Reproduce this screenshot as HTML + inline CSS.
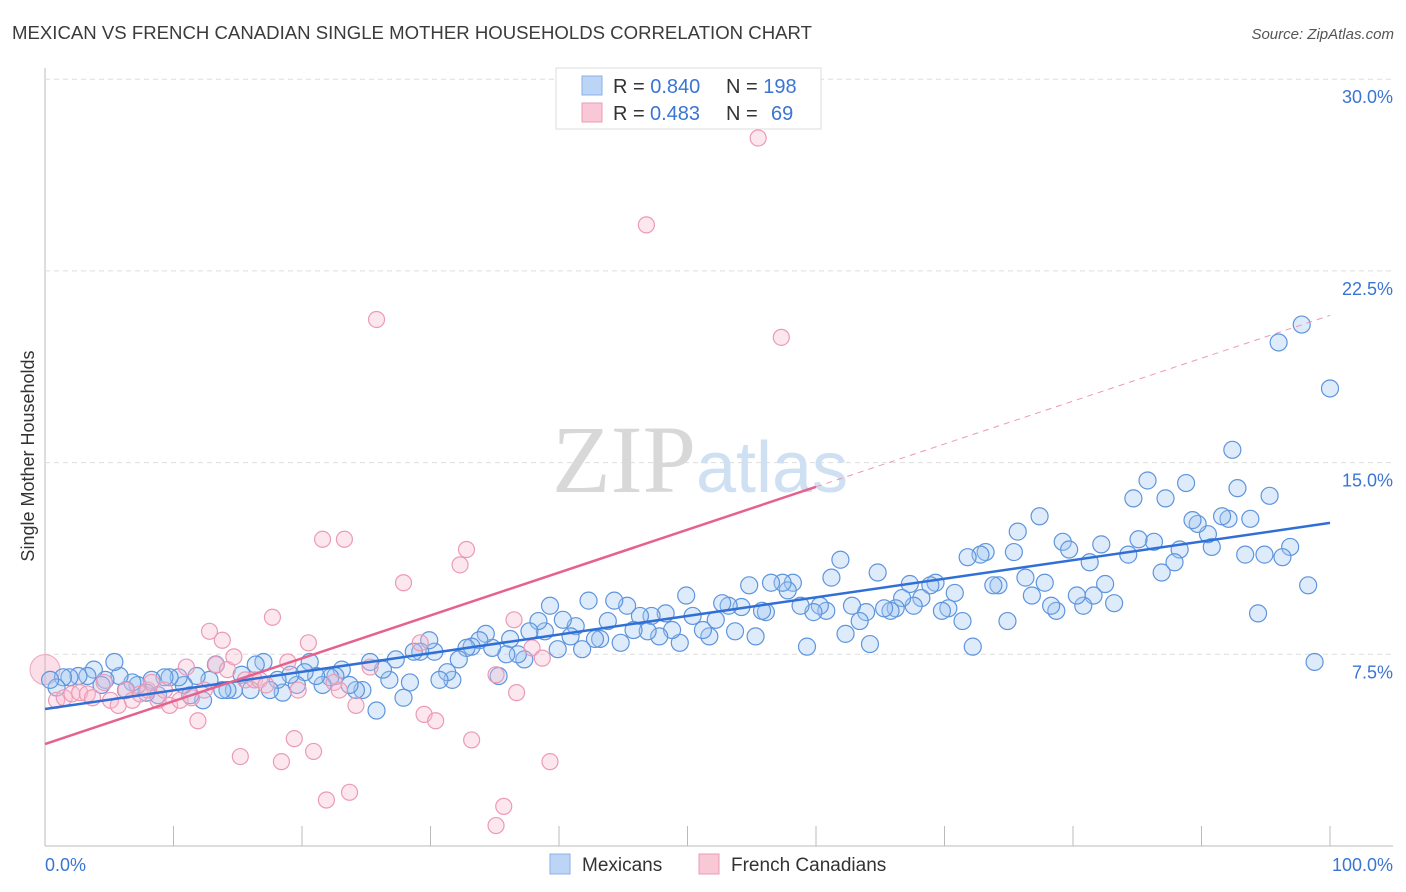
<!DOCTYPE html>
<html><head><meta charset="utf-8"><style>
body{margin:0;background:#fff;font-family:"Liberation Sans",sans-serif;}
svg{display:block}
</style></head><body>
<svg id="chart" width="1406" height="892">
<text x="12" y="39" font-size="18.6" fill="#3b3b3b">MEXICAN VS FRENCH CANADIAN SINGLE MOTHER HOUSEHOLDS CORRELATION CHART</text>
<text x="1394" y="39" font-size="15" fill="#555" font-style="italic" text-anchor="end">Source: ZipAtlas.com</text>
<text x="34" y="456" font-size="18" fill="#333" text-anchor="middle" transform="rotate(-90 34 456)">Single Mother Households</text>
<g id="grid"></g>
<text x="700" y="492" font-size="96" fill="#ddd" text-anchor="middle" font-family="Liberation Serif,serif"><tspan fill="#d8d8d8">ZIP</tspan><tspan fill="#cfe0f3" font-family="Liberation Sans,sans-serif" font-size="72">atlas</tspan></text>
<g id="pts"></g>
<g id="lines"></g>
<g>
<rect x="556" y="68" width="265" height="61" fill="#fff" stroke="#ddd"/>
<rect x="582" y="76" width="20" height="19" fill="#bcd4f5" stroke="#8ab0e8"/>
<rect x="582" y="103" width="20" height="19" fill="#f9c8d7" stroke="#ec9bb5"/>
<text x="613" y="93" font-size="20" fill="#333">R = <tspan fill="#3a75d4">0.840</tspan><tspan x="726">N = </tspan><tspan fill="#3a75d4">198</tspan></text>
<text x="613" y="120" font-size="20" fill="#333">R = <tspan fill="#3a75d4" x="650">0.483</tspan><tspan x="726">N = </tspan><tspan fill="#3a75d4" x="771">69</tspan></text>
</g>
<g>
<rect x="550" y="854" width="20" height="20" fill="#bcd4f5" stroke="#8ab0e8"/>
<text x="582" y="871" font-size="19" fill="#333">Mexicans</text>
<rect x="699" y="854" width="20" height="20" fill="#f9c8d7" stroke="#ec9bb5"/>
<text x="731" y="871" font-size="19" fill="#333">French Canadians</text>
</g>
<text x="45" y="871" font-size="18" fill="#3a75d4">0.0%</text>
<text x="1393" y="871" font-size="18" fill="#3a75d4" text-anchor="end">100.0%</text>
</svg>
<script>
const yTicks=[7.5,15,22.5,30];
const yTickLabels=["7.5%","15.0%","22.5%","30.0%"];
const xTicks=[0,10,20,30,40,50,60,70,80,90,100];
const blueX=[100,97.8,96,98.8,98.3,96.9,96.3,95.3,94.9,94.4,93.4,93.8,92.8,92.4,92.1,91.6,90.8,90.5,89.7,89.3,88.8,88.3,87.9,87.2,86.9,86.3,85.8,85.1,84.7,84.3,83.2,82.5,81.6,81.3,82.2,80.8,80.3,79.2,79.7,78.7,78.3,77.8,76.8,76.3,77.4,75.7,75.4,74.9,74.2,73.8,73.2,72.8,72.2,71.4,71.8,70.8,70.3,69.8,69.3,68.9,68.2,67.6,67.3,66.7,66.2,65.8,65.3,64.8,64.2,63.9,63.4,62.8,62.3,61.9,61.2,60.8,60.3,59.8,59.3,58.8,58.2,57.8,57.4,56.5,56.1,55.8,55.3,54.8,54.2,53.7,53.2,52.7,52.2,51.7,51.2,50.4,49.9,49.4,48.8,48.3,47.8,47.2,46.9,46.3,45.8,45.3,44.8,44.3,43.8,43.2,42.8,42.3,41.8,41.3,40.9,40.3,39.9,39.3,38.9,38.4,37.7,37.3,36.8,36.2,35.9,35.3,34.8,34.3,33.8,33.2,32.8,32.2,31.7,31.3,30.7,30.3,29.9,29.2,28.7,28.4,27.9,27.3,26.8,26.3,25.8,25.3,24.7,24.2,23.7,23.1,22.6,22.2,21.6,21.1,20.6,20.2,19.6,19.1,18.5,18.1,17.5,17.0,16.4,16.0,15.3,14.7,14.2,13.8,13.3,12.8,12.3,11.8,11.3,10.8,10.4,9.7,9.3,8.8,8.3,7.9,7.2,6.8,6.3,5.8,5.4,4.7,4.4,3.8,3.3,2.6,1.9,1.4,0.9,0.4];
const blueY=[17.9,20.4,19.7,7.2,10.2,11.7,11.3,13.7,11.4,9.1,11.4,12.8,14.0,15.5,12.8,12.9,11.7,12.2,12.6,12.75,14.2,11.6,11.1,13.6,10.7,11.9,14.3,12.0,13.6,11.4,9.5,10.25,9.8,11.1,11.8,9.4,9.8,11.9,11.6,9.2,9.4,10.3,9.8,10.5,12.9,12.3,11.5,8.8,10.2,10.2,11.5,11.4,7.8,8.8,11.3,9.9,9.3,9.2,10.3,10.2,9.7,9.4,10.25,9.7,9.3,9.2,9.3,10.7,7.9,9.15,8.8,9.4,8.3,11.2,10.5,9.2,9.4,9.15,7.8,9.4,10.3,10.0,10.3,10.3,9.15,9.2,8.2,10.2,9.35,8.4,9.4,9.5,8.85,8.2,8.45,9.0,9.8,7.95,8.45,9.1,8.2,9.0,8.4,9.0,8.45,9.4,7.95,9.6,8.8,8.1,8.1,9.6,7.7,8.6,8.2,8.85,7.7,9.4,8.4,8.8,8.4,7.3,7.5,8.1,7.5,6.65,7.75,8.3,8.05,7.8,7.75,7.3,6.5,6.8,6.5,7.6,8.05,7.6,7.6,6.4,5.8,7.3,6.5,6.9,5.3,7.2,6.1,6.1,6.3,6.9,6.65,6.6,6.3,6.65,7.2,6.8,6.3,6.7,6.0,6.5,6.1,7.2,7.1,6.1,6.7,6.1,6.1,6.1,7.1,6.5,5.7,6.65,5.9,6.3,6.6,6.6,6.6,5.9,6.5,6.0,6.3,6.4,6.1,6.65,7.2,6.5,6.3,6.9,6.65,6.65,6.6,6.6,6.2,6.5];
const pinkX=[0.9,1.5,2.1,2.7,3.3,3.7,4.6,5.1,5.7,6.3,6.8,7.4,8.0,8.3,8.8,9.3,9.7,10.5,11.0,11.4,11.9,12.4,12.8,13.3,13.8,14.2,14.7,15.2,15.6,16.3,16.7,17.2,17.7,18.4,18.9,19.4,19.7,20.5,20.9,21.6,21.9,22.5,22.9,23.3,23.7,24.2,25.3,25.8,27.9,29.5,30.4,29.2,32.3,32.8,33.2,35.1,35.7,35.1,36.5,36.7,37.9,38.7,39.3,46.8,55.5,57.3];
const pinkY=[5.7,5.8,5.95,6.0,5.95,5.8,6.4,5.7,5.5,6.1,5.7,5.95,6.1,6.4,5.7,6.1,5.5,5.7,7.0,5.8,4.9,6.1,8.4,7.1,8.05,6.9,7.4,3.5,6.5,6.5,6.5,6.3,8.95,3.3,7.2,4.2,6.1,7.95,3.7,12.0,1.8,6.4,6.1,12.0,2.1,5.5,7.0,20.6,10.3,5.15,4.9,7.95,11.0,11.6,4.15,6.7,1.55,0.8,8.85,6.0,7.75,7.35,3.3,24.3,27.7,19.9];
const blueFit=[5.36,0.0728];
const pinkFit=[3.99,0.1677];
const NS="http://www.w3.org/2000/svg";
const X0=45,X1=1330,Y0=846,PPY=25.56;
function sx(v){return X0+(X1-X0)*v/100;}
function sy(v){return Y0-v*PPY;}
function mk(tag,attrs,parent){const e=document.createElementNS(NS,tag);for(const k in attrs)e.setAttribute(k,attrs[k]);parent.appendChild(e);return e;}
const grid=document.getElementById('grid');
let ax=mk('line',{x1:45,y1:68,x2:45,y2:846,stroke:'#bbb'},grid);


let bx=mk('line',{x1:45,y1:846,x2:1393,y2:846,stroke:'#bbb'},grid);


yTicks.forEach((t,i)=>{
 const g=mk('line',{x1:45,y1:sy(t),x2:1393,y2:sy(t),stroke:'#ddd','stroke-dasharray':'5,4'},grid);
 
 
 const tx=mk('text',{x:1393,y:sy(t)+24,'font-size':18,fill:'#3a75d4','text-anchor':'end'},grid);
 tx.textContent=yTickLabels[i];
 
 
});
xTicks.forEach(t=>{
 const l=mk('line',{x1:sx(t),y1:826,x2:sx(t),y2:846,stroke:'#bbb'},grid);
 
 
});
const pts=document.getElementById('pts');
const big=mk('circle',{cx:sx(0),cy:sy(6.9),r:15,fill:'rgba(244,160,188,0.35)',stroke:'#eea5bd'},pts);


blueX.forEach((x,i)=>{
 const c=mk('circle',{cx:sx(x),cy:sy(blueY[i]),r:8.5,fill:'rgba(160,198,242,0.35)',stroke:'#5e95dd','stroke-width':1.2},pts);
 
 
});
pinkX.forEach((x,i)=>{
 const c=mk('circle',{cx:sx(x),cy:sy(pinkY[i]),r:8,fill:'rgba(248,185,205,0.35)',stroke:'#eb9ab5','stroke-width':1.2},pts);
 
 
});
const lines=document.getElementById('lines');
const bl=mk('line',{x1:sx(0),y1:sy(blueFit[0]),x2:sx(100),y2:sy(blueFit[0]+100*blueFit[1]),stroke:'#2f6fd6','stroke-width':2.5},lines);


const pl=mk('line',{x1:sx(0),y1:sy(pinkFit[0]),x2:sx(60),y2:sy(pinkFit[0]+60*pinkFit[1]),stroke:'#e5628e','stroke-width':2.5},lines);


const pd=mk('line',{x1:sx(60),y1:sy(pinkFit[0]+60*pinkFit[1]),x2:sx(100),y2:sy(pinkFit[0]+100*pinkFit[1]),stroke:'#eb9ab5','stroke-width':1,'stroke-dasharray':'6,5'},lines);


</script>
</body></html>
